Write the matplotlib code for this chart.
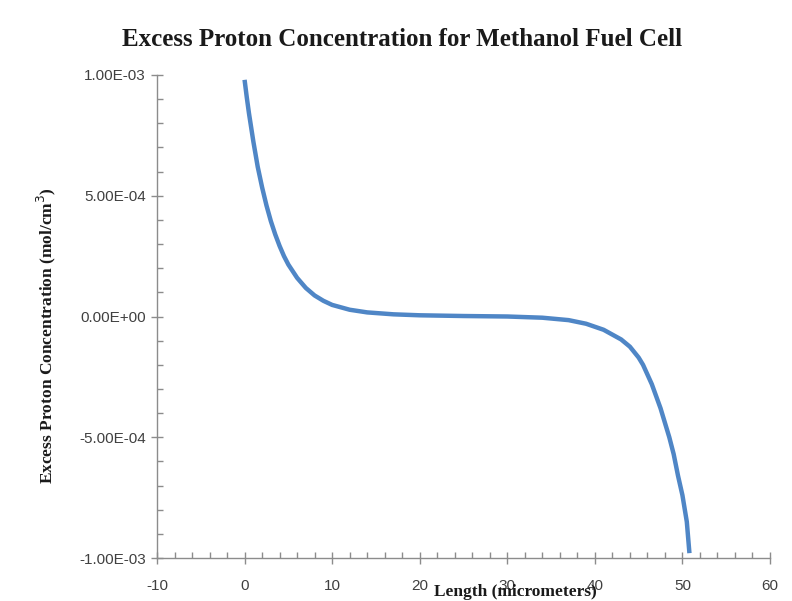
import matplotlib
matplotlib.use("Agg")
import matplotlib.pyplot as plt
from matplotlib.ticker import MultipleLocator, FuncFormatter

plt.rcParams['axes.unicode_minus'] = False

# data (x in micrometers, y in 1e-4 mol/cm^3)
length_um = [0, 0.25, 0.5, 1, 1.5, 2, 2.5, 3, 3.5, 4, 4.5, 5, 6, 7, 8, 9,
             10, 12, 14, 17, 20, 25, 30, 34, 37, 39, 41, 43, 44, 45, 45.5,
             46, 46.5, 47, 47.5, 48, 48.5, 49, 49.5, 50, 50.5, 50.8]
conc_e4 = [9.8, 9.08, 8.42, 7.25, 6.2, 5.35, 4.6, 3.95, 3.4, 2.92, 2.5, 2.15,
           1.6, 1.18, 0.87, 0.65, 0.48, 0.28, 0.17, 0.09, 0.05, 0.02, 0.0,
           -0.05, -0.15, -0.3, -0.55, -0.95, -1.25, -1.7, -2.0, -2.4, -2.8,
           -3.3, -3.8, -4.4, -5.0, -5.7, -6.6, -7.4, -8.5, -9.8]
conc = [v * 1e-4 for v in conc_e4]

title = "Excess Proton Concentration for Methanol Fuel Cell"
xlabel = "Length (micrometers)"
ylabel = "Excess Proton Concentration (mol/cm$^3$)"

fig = plt.figure(figsize=(7.92, 6.01), dpi=100)
ax = fig.add_axes([157/792, 1-558/601, (770-157)/792, (558-75)/601])

ax.plot(length_um, conc, color="#4f86c6", lw=3.2, solid_capstyle="butt",
        solid_joinstyle="round")

ax.set_xlim(-10, 60)
ax.set_ylim(-1e-3, 1e-3)
ax.xaxis.set_major_locator(MultipleLocator(10))
ax.xaxis.set_minor_locator(MultipleLocator(2))
ax.yaxis.set_major_locator(MultipleLocator(5e-4))
ax.yaxis.set_minor_locator(MultipleLocator(1e-4))


def sci(v, pos):
    if abs(v) < 1e-12:
        return "0.00E+00"
    s = "%.2E" % v
    m, e = s.split("E")
    return "%sE%s%02d" % (m, e[0], abs(int(e)))


ax.yaxis.set_major_formatter(FuncFormatter(sci))

for s in ("top", "right"):
    ax.spines[s].set_visible(False)
for s in ("left", "bottom"):
    ax.spines[s].set_color("#8c8c8c")
    ax.spines[s].set_linewidth(1.0)

ax.tick_params(which="major", direction="inout", length=8, width=1,
               color="#8c8c8c", labelsize=11, labelcolor="#404040")
ax.tick_params(which="minor", direction="in", length=4, width=1,
               color="#8c8c8c")
ax.tick_params(axis="x", pad=11)
ax.tick_params(axis="y", pad=4)
for lab in ax.get_xticklabels() + ax.get_yticklabels():
    lab.set_family("Liberation Sans")

fig.text(0.508, 1-40/601, title, ha="center", va="center",
         family="Liberation Serif", weight="bold", fontsize=18, color="#1a1a1a")
fig.text(515/792, 1-592/601, xlabel, ha="center", va="center",
         family="Liberation Serif", weight="bold", fontsize=12.5, color="#1a1a1a")
fig.text(46/792, 1-336/601, ylabel, ha="center", va="center", rotation=90,
         family="Liberation Serif", weight="bold", fontsize=12.5, color="#1a1a1a")

fig.savefig("out.png", dpi=100)
